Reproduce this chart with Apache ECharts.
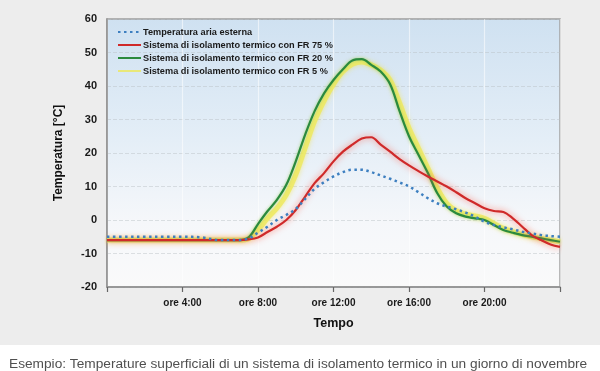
<!DOCTYPE html>
<html>
<head>
<meta charset="utf-8">
<script src="https://cdn.jsdelivr.net/npm/echarts@6/dist/echarts.min.js"></script>
<style>
html,body{margin:0;padding:0;background:#fff;}
#c{width:600px;height:371px;background:linear-gradient(#ededed 0px,#ededed 345px,#ffffff 345px,#ffffff 371px);}
</style>
</head>
<body>
<div id="c"></div>
<script>
// ---- data ----
const hours = [0,1,2,3,4,5,6,7,7.5,8,8.5,9,9.5,10,10.5,11,11.5,12,12.5,13,13.5,14,14.5,15,15.5,16,16.5,17,17.5,18,18.5,19,19.5,20,20.5,21,21.5,22,22.5,23,23.5,24];
const ariaEsterna = [-5,-5,-5,-5,-5,-5.2,-6,-6,-5.5,-3.8,-2,0,1.5,3.3,6.3,9.3,11.3,13,14.3,15,15,14.3,13.3,12.3,11.2,10,8.3,6.5,5,4,3.2,2.2,1,-0.5,-1.5,-2.2,-2.8,-3.5,-4,-4.5,-4.8,-5];
const fr75 = [-6,-6,-6,-6,-6,-6,-6,-6,-5.8,-5.2,-3.6,-2,0,3,7,11,14,17.5,20.4,22.5,24.3,24.7,22.5,20.4,18.2,16.3,14.6,13,11.5,10,8.3,6.5,5,3.5,2.7,2.4,0.5,-2,-4.5,-6,-7.3,-8];
const fr20 = [-6,-6,-6,-6,-6,-6,-6,-6,-5.2,-1.2,2.6,6,10.5,17.5,25.5,32.5,37.8,41.8,45,47.6,48,46.3,44.3,40.5,32.5,25,19.5,14,8,4,2,1,0.5,0,-1.5,-3,-3.8,-4.5,-5,-5.5,-6,-6.5];
const fr5 = [-6,-6,-6,-6,-6,-6,-6,-6,-5.6,-3,0.5,3.5,7.5,13.5,21.5,29.5,35.5,40.5,44.3,46.5,47.2,46.3,44.8,41.8,35,27.5,21.5,15.5,9.5,5,2.8,1.8,1.2,0.5,-1,-2.5,-3.5,-4.3,-5,-5.5,-6,-6.5];
const seriesNames = ['Temperatura aria esterna','Sistema di isolamento termico con FR 75 %','Sistema di isolamento termico con FR 20 %','Sistema di isolamento termico con FR 5 %'];
const xTickValues = [0,4,8,12,16,20,24];
const xTickLabels = ['','ore 4:00','ore 8:00','ore 12:00','ore 16:00','ore 20:00',''];
const yTicks = [-20,-10,0,10,20,30,40,50,60];
const caption = 'Esempio: Temperature superficiali di un sistema di isolamento termico in un giorno di novembre';

const pair = arr => hours.map((h,i)=>[h,arr[i]]);

const chart = echarts.init(document.getElementById('c'), null, {renderer:'canvas'});
const sans = '"Liberation Sans",Arial,Helvetica,sans-serif';

chart.setOption({
  backgroundColor: 'transparent',
  animation: false,
  title: {
    text: caption, left: 4, top: 352,
    textStyle: {fontFamily: sans, fontSize: 13.7, fontWeight: 'normal', color: '#505050'}
  },
  legend: {
    orient: 'vertical', left: 112, top: 22,
    itemWidth: 23, itemHeight: 10, itemGap: 3,
    itemStyle: {color: 'rgba(0,0,0,0)', borderWidth: 0, opacity: 0},
    data: [seriesNames[0], seriesNames[1], seriesNames[2], seriesNames[3]],
    textStyle: {fontFamily: sans, fontSize: 9.2, fontWeight: 'bold', color: '#1a1a1a', padding: [0,0,0,-3], lineHeight: 13, height: 10}
  },
  grid: {
    left: 107, right: 40, top: 19, bottom: 84,
    show: true, borderColor: '#9d9d9d', borderWidth: 1.5,
    backgroundColor: {type:'linear', x:0, y:0, x2:0, y2:1, colorStops:[
      {offset:0, color:'#cfe1f1'},
      {offset:0.45, color:'#e4eef7'},
      {offset:0.75, color:'#f5f7fa'},
      {offset:1, color:'#fafafa'}
    ]}
  },
  xAxis: {
    type: 'value', min: 0, max: 24, interval: 4,
    name: 'Tempo', nameLocation: 'middle', nameGap: 30,
    nameTextStyle: {fontFamily: sans, fontSize: 12.5, fontWeight: 'bold', color: '#111'},
    axisLine: {show: true, onZero: false, lineStyle: {color: '#8f8f8f', width: 1.5}},
    axisTick: {show: true, length: 5, lineStyle: {color: '#666', width: 1.2}},
    axisLabel: {
      margin: 11, fontFamily: sans, fontSize: 10, fontWeight: 'bold', color: '#1a1a1a',
      formatter: v => xTickLabels[xTickValues.indexOf(v)] || ''
    },
    splitLine: {show: true, lineStyle: {color: 'rgba(255,255,255,0.55)', width: 1.2}}
  },
  yAxis: {
    type: 'value', min: yTicks[0], max: yTicks[yTicks.length-1], interval: 10,
    name: 'Temperatura [°C]', nameLocation: 'middle', nameGap: 42, nameRotate: 90,
    nameTextStyle: {fontFamily: sans, fontSize: 12, fontWeight: 'bold', color: '#111'},
    axisLine: {show: true, onZero: false, lineStyle: {color: '#8f8f8f', width: 1.5}},
    axisTick: {show: false},
    axisLabel: {margin: 10, fontFamily: sans, fontSize: 11, fontWeight: 'bold', color: '#1a1a1a'},
    splitLine: {show: true, lineStyle: {color: 'rgba(185,190,195,0.45)', type: 'dashed', width: 1}}
  },
  series: [
    {
      name: seriesNames[3], type: 'line', data: pair(fr5), smooth: 0.35, symbol: 'none', z: 2,
      lineStyle: {color: 'rgba(238,232,90,0.8)', width: 5, shadowColor: 'rgba(245,225,60,0.7)', shadowBlur: 5}
    },
    {
      name: seriesNames[2], type: 'line', data: pair(fr20), smooth: 0.35, symbol: 'none', z: 3,
      lineStyle: {color: '#2b8a3e', width: 2.2, shadowColor: 'rgba(120,200,80,0.6)', shadowBlur: 3}
    },
    {
      name: seriesNames[1], type: 'line', data: pair(fr75), smooth: 0.35, symbol: 'none', z: 4,
      lineStyle: {color: '#cf2a2a', width: 2.2, shadowColor: 'rgba(255,90,70,0.8)', shadowBlur: 6}
    },
    {
      name: seriesNames[0], type: 'line', data: pair(ariaEsterna), smooth: 0.35, symbol: 'none', z: 5,
      lineStyle: {color: '#3d7fc0', width: 2.5, type: [2.5, 3.5]}
    }
  ]
});
</script>
</body>
</html>
